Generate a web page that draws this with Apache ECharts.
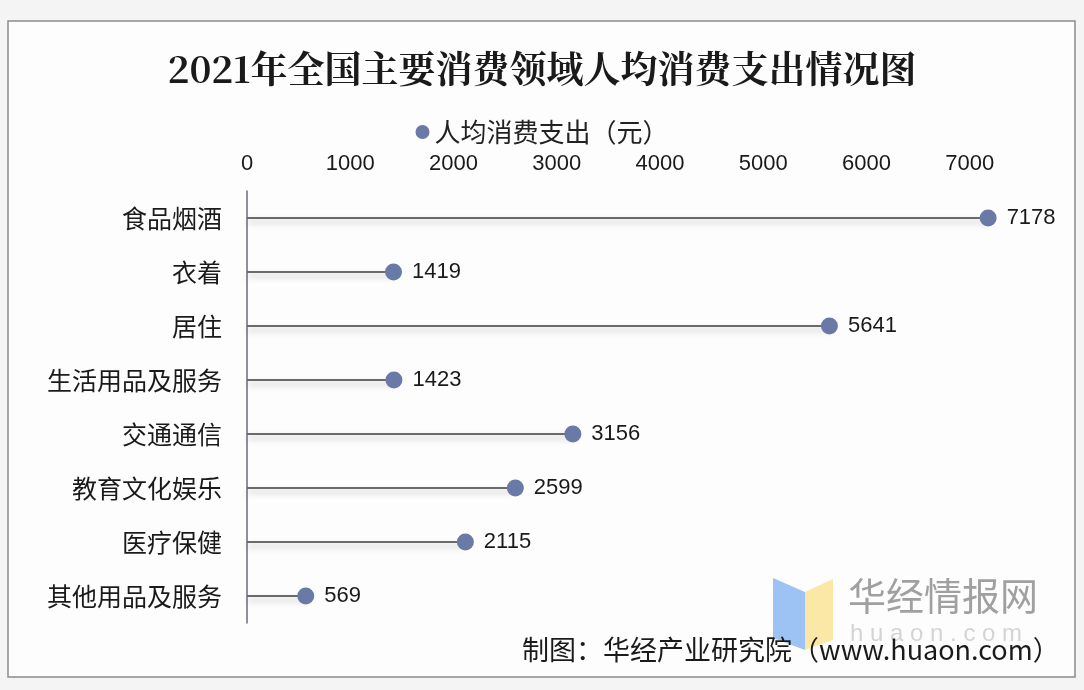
<!DOCTYPE html>
<html><head><meta charset="utf-8">
<script src="https://cdn.jsdelivr.net/npm/echarts@6/dist/echarts.min.js"></script>
<style>html,body{margin:0;padding:0;background:#f4f4f4;}#c{width:1084px;height:690px;}</style>
</head><body><div id="c"></div>
<script>
const categories = ['食品烟酒','衣着','居住','生活用品及服务','交通通信','教育文化娱乐','医疗保健','其他用品及服务'];
const values = [7178, 1419, 5641, 1423, 3156, 2599, 2115, 569];
const seriesName = '人均消费支出（元）';
const titleText = '2021年全国主要消费领域人均消费支出情况图';
const sourceText = '制图：华经产业研究院（www.huaon.com）';

const chart = echarts.init(document.getElementById('c'));
const dotColor = '#6a7aa6';
chart.setOption({
  backgroundColor: '#f4f4f4',
  animation: false,
  title: {
    text: titleText, left: 'center', top: 45,
    textStyle: {fontFamily: 'Noto Serif CJK SC, Noto Sans CJK SC, serif', fontSize: 37, fontWeight: 'bold', color: '#1a1a1a'}
  },
  legend: {
    top: 114, left: 'center', itemWidth: 14, itemHeight: 14, itemGap: 6,
    data: [{name: seriesName, icon: 'circle'}],
    textStyle: {fontFamily: 'Noto Sans CJK SC', fontSize: 26, color: '#222'}
  },
  grid: {left: 247, right: 11, top: 191, bottom: 67},
  xAxis: {
    type: 'value', position: 'top', min: 0, max: 8000, interval: 1000,
    axisLine: {show: false}, axisTick: {show: false}, splitLine: {show: false},
    axisLabel: {margin: 16, fontFamily: 'Liberation Sans, Arial', fontSize: 22, color: '#1a1a1a',
      formatter: v => v >= 8000 ? '' : String(v)}
  },
  yAxis: {
    type: 'category', inverse: true, data: categories,
    axisLine: {show: true, lineStyle: {color: '#6b6b7b', width: 1.5}},
    axisTick: {show: false},
    axisLabel: {margin: 25, fontFamily: 'Noto Sans CJK SC', fontSize: 25, color: '#1a1a1a'}
  },
  graphic: [
    {type: 'rect', z: -10, shape: {x: 8, y: 21, width: 1067, height: 656},
      style: {fill: '#fdfdfe', stroke: '#8a8a8a', lineWidth: 1.5}},
    {type: 'polygon', z: -5, shape: {points: [[773,578],[805,592],[805,650],[773,638]]}, style: {fill: '#9dc3f5'}},
    {type: 'polygon', z: -5, shape: {points: [[805,592],[833,579],[833,640],[805,650]]}, style: {fill: '#fbe8a6'}},
    {type: 'text', z: -5, left: 848, top: 577, style: {text: '华经情报网', fontFamily: 'Noto Sans CJK SC', fontSize: 38, fill: '#a0a0a0'}},
    {type: 'text', z: -5, left: 850, top: 622, style: {text: 'h u a o n . c o m', fontFamily: 'Liberation Sans', fontSize: 24, fill: '#d4d4d4'}},
    {type: 'text', z: 10, left: 522, top: 636, style: {text: sourceText, fontFamily: 'Noto Sans CJK SC', fontSize: 27, fill: '#1a1a1a'}}
  ],
  series: [
    {
      type: 'bar', name: 'stem', barWidth: 2, silent: true, data: values,
      itemStyle: {color: '#6a6a6a', shadowColor: 'rgba(0,0,0,0.25)', shadowBlur: 6, shadowOffsetY: 4}
    },
    {
      type: 'scatter', name: seriesName, data: values, symbol: 'circle', symbolSize: 17,
      itemStyle: {color: dotColor, opacity: 1},
      label: {show: true, position: 'right', distance: 10, fontFamily: 'Liberation Sans, Arial', fontSize: 22, color: '#1a1a1a'}
    }
  ]
});
</script></body></html>
